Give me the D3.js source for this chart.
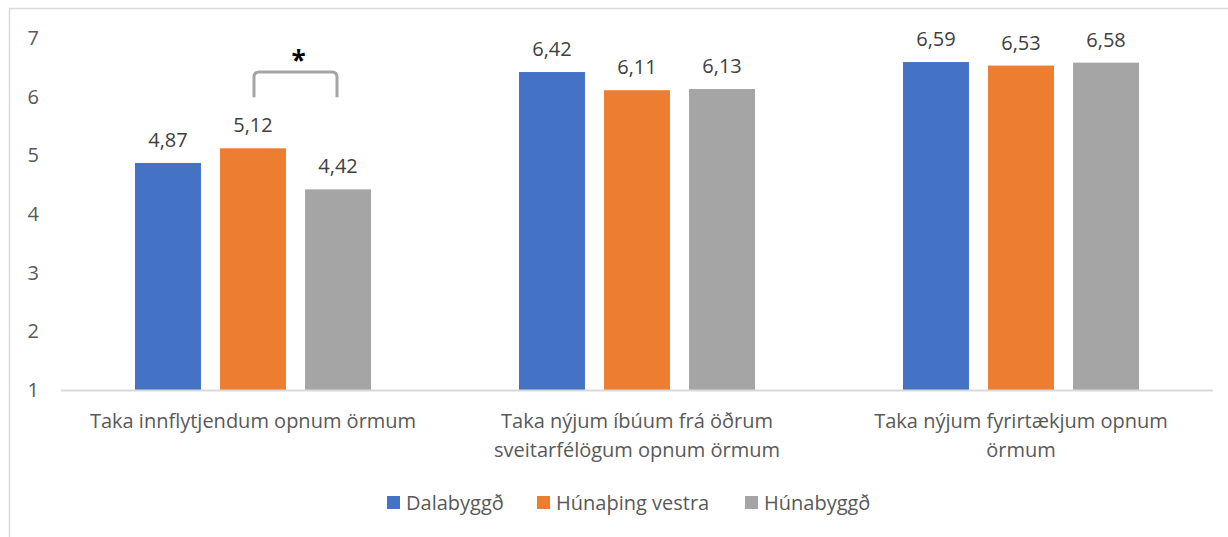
<!DOCTYPE html>
<html>
<head>
<meta charset="utf-8">
<script src="https://cdn.jsdelivr.net/npm/d3@7"></script>
<style>
  body { margin: 0; background: #fff; overflow: hidden; }
  svg { display: block; }
  text { font-family: 'Open Sans', sans-serif; }
</style>
</head>
<body>
<svg id="chart"></svg>
<script>
const categories = [
  ['Taka innflytjendum opnum örmum'],
  ['Taka nýjum íbúum frá öðrum', 'sveitarfélögum opnum örmum'],
  ['Taka nýjum fyrirtækjum opnum', 'örmum']
];
const seriesNames = ['Dalabyggð', 'Húnaþing vestra', 'Húnabyggð'];
const dalabyggd = [4.87, 6.42, 6.59];
const hunathing = [5.12, 6.11, 6.53];
const hunabyggd = [4.42, 6.13, 6.58];
const yTicks = [1, 2, 3, 4, 5, 6, 7];
const colors = ['#4472c4', '#ed7d31', '#a5a5a5'];

const width = 1228, height = 537;
const margin = { top: 38, left: 61, right: 15, bottom: 147 };
const innerWidth = width - margin.left - margin.right;
const innerHeight = height - margin.top - margin.bottom;

const seriesValues = [dalabyggd, hunathing, hunabyggd];
const data = categories.map((c, i) => ({
  cat: i,
  vals: seriesNames.map((s, j) => ({ series: s, idx: j, value: seriesValues[j][i] }))
}));

const svg = d3.select('#chart').attr('width', width).attr('height', height);

// outer frame (left + top only visible)
svg.append('path')
  .attr('d', `M9.5,${height} V8.5 H${width}`)
  .attr('fill', 'none')
  .attr('stroke', '#d9d9d9')
  .attr('stroke-width', 1.5);

const body = svg.append('g').attr('transform', `translate(${margin.left},${margin.top})`);

const xScale = d3.scaleBand().domain(d3.range(categories.length)).range([0, innerWidth]);
const inner = d3.scaleBand().domain(d3.range(seriesNames.length))
  .range([(xScale.bandwidth() - 236) / 2, (xScale.bandwidth() + 236) / 2])
  .paddingInner(0.224);
const yScale = d3.scaleLinear().domain([1, 7]).range([innerHeight, 0]);

const yAxis = d3.axisLeft(yScale).tickValues(yTicks).tickFormat(d3.format('d')).tickSize(0).tickPadding(0);
const yg = body.append('g').attr('transform', 'translate(-22,0)').call(yAxis);
yg.select('.domain').remove();
yg.selectAll('text')
  .attr('font-size', 20)
  .attr('fill', '#595959')
  .attr('font-family', "'Open Sans', sans-serif");

const groups = body.selectAll('.group')
  .data(data)
  .enter()
  .append('g')
  .attr('transform', d => `translate(${xScale(d.cat)},0)`);

groups.selectAll('rect')
  .data(d => d.vals)
  .enter()
  .append('rect')
  .attr('x', d => inner(d.idx))
  .attr('width', inner.bandwidth())
  .attr('y', d => yScale(d.value))
  .attr('height', d => yScale(1) - yScale(d.value))
  .attr('fill', d => colors[d.idx]);

groups.selectAll('.val')
  .data(d => d.vals)
  .enter()
  .append('text')
  .attr('x', d => inner(d.idx) + inner.bandwidth() / 2)
  .attr('y', d => yScale(d.value) - 16)
  .attr('text-anchor', 'middle')
  .attr('font-size', 20)
  .attr('fill', '#404040')
  .text(d => d3.format('.2f')(d.value).replace('.', ','));

// baseline
body.append('line')
  .attr('x1', 0).attr('x2', innerWidth)
  .attr('y1', yScale(1) + 0.5).attr('y2', yScale(1) + 0.5)
  .attr('stroke', '#d9d9d9')
  .attr('stroke-width', 2);

// category labels
const catLabels = body.selectAll('.cat')
  .data(categories)
  .enter()
  .append('text')
  .attr('text-anchor', 'middle')
  .attr('font-size', 20)
  .attr('fill', '#595959')
  .attr('transform', (d, i) => `translate(${xScale(i) + xScale.bandwidth() / 2},${innerHeight + 38})`);
catLabels.selectAll('tspan')
  .data(d => d)
  .enter()
  .append('tspan')
  .attr('x', 0)
  .attr('dy', (d, i) => i === 0 ? 0 : 29)
  .text(d => d);

// significance bracket between series 2 and 3 of first category
const bx1 = xScale(0) + inner(1) + inner.bandwidth() / 2 + 1;
const bx2 = xScale(0) + inner(2) + inner.bandwidth() / 2 - 1;
const bTop = yScale(6.42), bBot = yScale(5.99);
body.append('path')
  .attr('d', `M${bx1},${bBot} V${bTop + 5} Q${bx1},${bTop} ${bx1 + 5},${bTop} H${bx2 - 5} Q${bx2},${bTop} ${bx2},${bTop + 5} V${bBot}`)
  .attr('fill', 'none')
  .attr('stroke', '#a5a5a5')
  .attr('stroke-width', 3);
body.append('text')
  .attr('x', (bx1 + bx2) / 2 + 3)
  .attr('y', bTop - 2)
  .attr('text-anchor', 'middle')
  .attr('font-size', 26)
  .attr('font-weight', 'bold')
  .attr('fill', '#000')
  .text('*');

// legend
const legendX = [387, 537, 745];
const legend = svg.append('g').attr('transform', 'translate(0,503)');
const items = legend.selectAll('g')
  .data(seriesNames)
  .enter()
  .append('g')
  .attr('transform', (d, i) => `translate(${legendX[i]},0)`);
items.append('rect')
  .attr('x', 0).attr('y', -7)
  .attr('width', 13).attr('height', 13)
  .attr('fill', (d, i) => colors[i]);
items.append('text')
  .attr('x', 19)
  .attr('y', 0)
  .attr('dy', '0.35em')
  .attr('font-size', 20)
  .attr('fill', '#595959')
  .text(d => d);
</script>
</body>
</html>
